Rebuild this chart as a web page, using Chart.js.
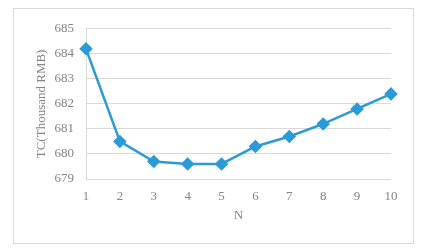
<!DOCTYPE html>
<html><head><meta charset="utf-8">
<script src="https://cdn.jsdelivr.net/npm/chart.js@4.4.1/dist/chart.umd.min.js"></script>
<style>
html,body{margin:0;padding:0;background:#fff;}
#box{position:absolute;left:13px;top:8px;width:399px;height:234px;border:1px solid #d9d9d9;}
#c{display:block;}
</style></head>
<body>
<div id="box"><canvas id="c" width="399" height="234"></canvas></div>
<script>
const categories = ['1','2','3','4','5','6','7','8','9','10'];
const tcValues = [684.2, 680.5, 679.7, 679.6, 679.6, 680.3, 680.7, 681.2, 681.8, 682.4];
const yTitle = 'TC(Thousand RMB)';
const xTitle = 'N';
const yMin = 679, yMax = 685;

const FONT = '"Liberation Serif", "Times New Roman", serif';
const GREY = '#858585';
const LINE = '#2b9bd8';

new Chart(document.getElementById('c'), {
  type: 'line',
  data: {
    labels: categories,
    datasets: [{
      data: tcValues,
      borderColor: LINE,
      backgroundColor: LINE,
      borderWidth: 2.5,
      pointStyle: 'rectRot',
      pointRadius: 5,
      pointHoverRadius: 5,
      tension: 0
    }]
  },
  options: {
    responsive: false,
    animation: false,
    devicePixelRatio: 1,
    layout: {padding: {left: 20, right: 22, top: 18, bottom: 20}},
    plugins: {legend: {display: false}, tooltip: {enabled: false}},
    scales: {
      x: {
        offset: false,
        grid: {display: false, drawTicks: false},
        border: {display: false},
        ticks: {color: GREY, font: {family: FONT, size: 13}, padding: 10, maxRotation: 0},
        title: {display: true, text: xTitle, color: GREY, font: {family: FONT, size: 13}, padding: {top: 4, bottom: 0}},
        afterFit(s) { s.height = 44; }
      },
      y: {
        min: yMin, max: yMax,
        ticks: {stepSize: 1, color: GREY, font: {family: FONT, size: 13}, padding: 12},
        grid: {color: '#d9d9d9', drawTicks: false, lineWidth: 1},
        border: {display: true, color: '#d9d9d9'},
        title: {display: true, text: yTitle, color: GREY, font: {family: FONT, size: 13}, padding: {top: 0, bottom: 0}},
        afterFit(s) { s.width = 52; }
      }
    }
  }
});
</script>
</body></html>
